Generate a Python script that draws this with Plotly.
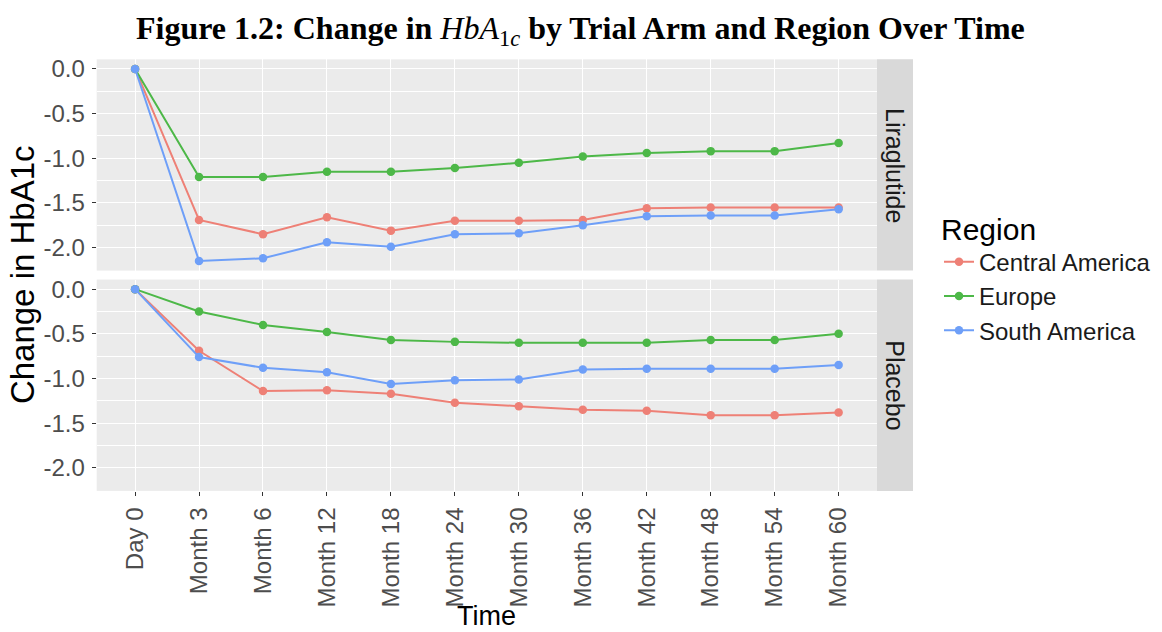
import plotly.graph_objects as go

# ---------------- data ----------------
time_labels = ["Day 0", "Month 3", "Month 6", "Month 12", "Month 18", "Month 24",
               "Month 30", "Month 36", "Month 42", "Month 48", "Month 54", "Month 60"]
regions = ["Central America", "Europe", "South America"]
arms = ["Liraglutide", "Placebo"]

lira_central = [0.0, -1.69, -1.85, -1.66, -1.81, -1.70, -1.70, -1.69, -1.56, -1.55, -1.55, -1.55]
lira_europe = [0.0, -1.21, -1.21, -1.15, -1.15, -1.11, -1.05, -0.98, -0.94, -0.92, -0.92, -0.83]
lira_south = [0.0, -2.15, -2.12, -1.94, -1.99, -1.85, -1.84, -1.75, -1.65, -1.64, -1.64, -1.57]

plac_central = [0.0, -0.69, -1.14, -1.13, -1.17, -1.27, -1.31, -1.35, -1.36, -1.41, -1.41, -1.38]
plac_europe = [0.0, -0.25, -0.40, -0.48, -0.57, -0.59, -0.60, -0.60, -0.60, -0.57, -0.57, -0.50]
plac_south = [0.0, -0.76, -0.88, -0.93, -1.06, -1.02, -1.01, -0.90, -0.89, -0.89, -0.89, -0.85]

y_ticks = [0.0, -0.5, -1.0, -1.5, -2.0]
y_tick_text = ["0.0", "-0.5", "-1.0", "-1.5", "-2.0"]
y_minor = [-0.25, -0.75, -1.25, -1.75]

# ---------------- style ----------------
W, H = 1162, 632
colors = {"Central America": "#EE8076", "Europe": "#4DB848", "South America": "#6E9FF8"}
panel_bg = "#EBEBEB"
strip_bg = "#D9D9D9"
tick_col = "#4D4D4D"
sans = "Liberation Sans, Arial, sans-serif"

def px_x(p):
    return p / W

def px_y(p):
    return 1 - p / H

left, right = 96.7, 877.0
strip_r = 913.0
top_panel = (55.7, 268.3)
bot_panel = (277.3, 490.0)

series = {
    "Liraglutide": [lira_central, lira_europe, lira_south],
    "Placebo": [plac_central, plac_europe, plac_south],
}

all_vals = [v for arm in series.values() for s in arm for v in s]
lo, hi = min(all_vals), max(all_vals)
pad = 0.05 * (hi - lo)
yrange = [lo - pad, hi + pad]

fig = go.Figure()
for i, arm in enumerate(arms):
    xa = "x" if i == 0 else "x2"
    ya = "y" if i == 0 else "y2"
    for reg, vals in zip(regions, series[arm]):
        fig.add_trace(go.Scatter(
            x=time_labels, y=vals, mode="lines+markers", name=reg,
            legendgroup=reg, showlegend=(i == 0),
            line=dict(color=colors[reg], width=2),
            marker=dict(color=colors[reg], size=8.5),
            xaxis=xa, yaxis=ya,
        ))

common_x = dict(
    type="category", categoryorder="array", categoryarray=time_labels,
    range=[-0.6, len(time_labels) - 1 + 0.6],
    domain=[px_x(left), px_x(right)],
    showgrid=True, gridcolor="white", gridwidth=1.3,
    zeroline=False, showline=False,
)
common_y = dict(
    range=yrange, tickvals=y_ticks, ticktext=y_tick_text,
    showgrid=True, gridcolor="white", gridwidth=1.3,
    minor=dict(tickvals=y_minor, showgrid=True, gridcolor="white", gridwidth=0.6, ticks=""),
    zeroline=False, showline=False,
    ticks="outside", ticklen=4, tickcolor="#333333", tickwidth=1,
    tickfont=dict(family=sans, size=24, color=tick_col),
    ticklabelstandoff=2,
)

fig.update_layout(
    width=W, height=H, margin=dict(l=0, r=0, t=0, b=0),
    paper_bgcolor="white", plot_bgcolor=panel_bg,
    xaxis=dict(common_x, anchor="y", showticklabels=False, ticks="", matches="x2"),
    xaxis2=dict(common_x, anchor="y2", ticks="outside", ticklen=4, tickcolor="#333333",
                tickangle=-90, tickfont=dict(family=sans, size=24, color=tick_col),
                ticklabelstandoff=2),
    yaxis=dict(common_y, anchor="x", domain=[px_y(top_panel[1]), px_y(top_panel[0])]),
    yaxis2=dict(common_y, anchor="x2", domain=[px_y(bot_panel[1]), px_y(bot_panel[0])]),
    showlegend=True,
    legend=dict(
        x=px_x(939), y=px_y(198), xanchor="left", yanchor="top",
        title=dict(text="Region", font=dict(family=sans, size=30, color="black")),
        font=dict(family=sans, size=24, color="#1A1A1A"),
        bgcolor="rgba(0,0,0,0)", itemwidth=30, tracegroupgap=0,
    ),
)

# facet strips
shapes = []
annotations = []
for arm, (t, b) in zip(arms, [top_panel, bot_panel]):
    shapes.append(dict(type="rect", xref="paper", yref="paper",
                       x0=px_x(right), x1=px_x(strip_r), y0=px_y(b), y1=px_y(t),
                       fillcolor=strip_bg, line=dict(width=0), layer="below"))
    annotations.append(dict(text=arm, xref="paper", yref="paper",
                            x=px_x((right + strip_r) / 2), y=px_y((t + b) / 2),
                            xanchor="center", yanchor="middle",
                            showarrow=False, textangle=90,
                            font=dict(family=sans, size=25, color="#1A1A1A")))

# title and axis titles
annotations.append(dict(
    text="<b>Figure 1.2: Change in </b><i>HbA</i><sub>1<i>c</i></sub><b> by Trial Arm and Region Over Time</b>",
    xref="paper", yref="paper", x=px_x(580), y=px_y(27), xanchor="center", yanchor="middle",
    showarrow=False,
    font=dict(family="Liberation Serif, Times New Roman, serif", size=32, color="black")))
annotations.append(dict(text="Time", xref="paper", yref="paper",
                        x=px_x((left + right) / 2), y=px_y(632), borderpad=0,
                        xanchor="center", yanchor="bottom", showarrow=False,
                        font=dict(family=sans, size=27, color="black")))
annotations.append(dict(text="Change in HbA1c", xref="paper", yref="paper",
                        x=px_x(22), y=px_y((top_panel[0] + bot_panel[1]) / 2),
                        xanchor="center", yanchor="middle",
                        showarrow=False, textangle=-90,
                        font=dict(family=sans, size=33, color="black")))

fig.update_layout(shapes=shapes, annotations=annotations)
fig.write_html("out.html")
